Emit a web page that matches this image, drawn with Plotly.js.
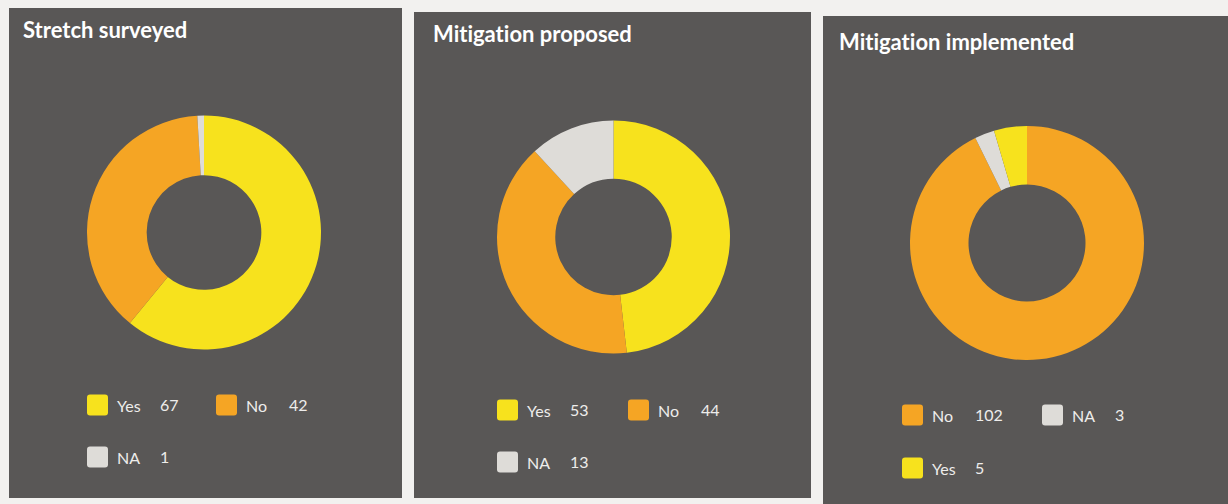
<!DOCTYPE html>
<html>
<head>
<meta charset="utf-8">
<script src="https://cdn.plot.ly/plotly-3.0.1.min.js"></script>
<style>
  html, body { margin: 0; padding: 0; background: #f2f1ef; }
  #chart { width: 1228px; height: 504px; }
  text { font-variant-ligatures: none !important; font-feature-settings: "liga" 0, "clig" 0 !important; }
</style>
</head>
<body>
<div id="chart"></div>
<script>
// ---- Data ----
const titles = ['Stretch surveyed', 'Mitigation proposed', 'Mitigation implemented'];
const cats1 = ['Yes', 'No', 'NA'];
const vals1 = [67, 42, 1];
const cats2 = ['Yes', 'No', 'NA'];
const vals2 = [53, 44, 13];
const cats3 = ['No', 'NA', 'Yes'];
const vals3 = [102, 3, 5];

// ---- Styling / layout (positions in pixels) ----
const W = 1228, H = 504;
const px = x => x / W;
const py = y => 1 - y / H;
const colorMap = { Yes: '#f7e21d', No: '#f5a524', NA: '#dedcd8' };
const panelColor = '#595756';
const textColor = '#eeedeb';

const panels = [
  { rect: [9, 8, 402, 498], pie: [204, 232.5, 117], hole: 0.49, title: [21, 29],
    legend: [[87, 405], [216, 405], [87, 457]] },
  { rect: [414, 12, 811, 498], pie: [613.5, 237, 116.5], hole: 0.5, title: [431, 34],
    legend: [[497, 410], [628, 410], [497, 462]] },
  { rect: [823, 16, 1240, 520], pie: [1027, 243, 117], hole: 0.5, title: [837, 41],
    legend: [[902, 415], [1042, 415], [902, 468]] }
];
const series = [[cats1, vals1], [cats2, vals2], [cats3, vals3]];

function roundRect(x0, y0, x1, y1, r) {
  const rx = r / W, ry = r / H;
  const X0 = px(x0), X1 = px(x1), Y0 = py(y0), Y1 = py(y1);
  return `M${X0 + rx},${Y0} L${X1 - rx},${Y0} Q${X1},${Y0} ${X1},${Y0 - ry} ` +
         `L${X1},${Y1 + ry} Q${X1},${Y1} ${X1 - rx},${Y1} L${X0 + rx},${Y1} ` +
         `Q${X0},${Y1} ${X0},${Y1 + ry} L${X0},${Y0 - ry} Q${X0},${Y0} ${X0 + rx},${Y0} Z`;
}

const traces = [];
const shapes = [];
const annotations = [];
const fam = 'Lato, "Open Sans", sans-serif';

panels.forEach((p, i) => {
  const [cats, vals] = series[i];
  const [cx, cy, r] = p.pie;
  shapes.push({
    type: 'rect', xref: 'paper', yref: 'paper', layer: 'below',
    x0: px(p.rect[0]), x1: px(p.rect[2]), y0: py(p.rect[3]), y1: py(p.rect[1]),
    fillcolor: panelColor, line: { width: 0 }
  });
  traces.push({
    type: 'pie',
    labels: cats,
    values: vals,
    sort: false,
    direction: 'clockwise',
    rotation: 0,
    hole: p.hole,
    textinfo: 'none',
    hoverinfo: 'label+value',
    showlegend: false,
    marker: { colors: cats.map(c => colorMap[c]), line: { width: 0 } },
    domain: { x: [px(cx - r), px(cx + r)], y: [py(cy + r), py(cy - r)] }
  });
  annotations.push({
    xref: 'paper', yref: 'paper', x: px(p.title[0]), y: py(p.title[1]),
    xanchor: 'left', yanchor: 'middle', showarrow: false,
    text: titles[i],
    font: { family: fam, size: 22, weight: 700, color: '#ffffff' }
  });
  cats.forEach((c, k) => {
    const [sx, sy] = p.legend[k];
    shapes.push({
      type: 'path', xref: 'paper', yref: 'paper', layer: 'above',
      path: roundRect(sx, sy - 10.5, sx + 21, sy + 10.5, 3),
      fillcolor: colorMap[c], line: { width: 0 }
    });
    annotations.push({
      xref: 'paper', yref: 'paper', x: px(sx + 28), y: py(sy),
      xanchor: 'left', yanchor: 'middle', showarrow: false,
      text: c,
      font: { family: fam, size: 16, color: textColor }
    });
    annotations.push({
      xref: 'paper', yref: 'paper', x: px(sx + 71), y: py(sy - 1),
      xanchor: 'left', yanchor: 'middle', showarrow: false,
      text: String(vals[k]),
      font: { family: fam, size: 16, color: textColor }
    });
  });
});

const layout = {
  width: W, height: H,
  margin: { l: 0, r: 0, t: 0, b: 0 },
  paper_bgcolor: '#f2f1ef',
  showlegend: false,
  shapes: shapes,
  annotations: annotations
};

Plotly.newPlot('chart', traces, layout, { displayModeBar: false });
</script>
</body>
</html>
